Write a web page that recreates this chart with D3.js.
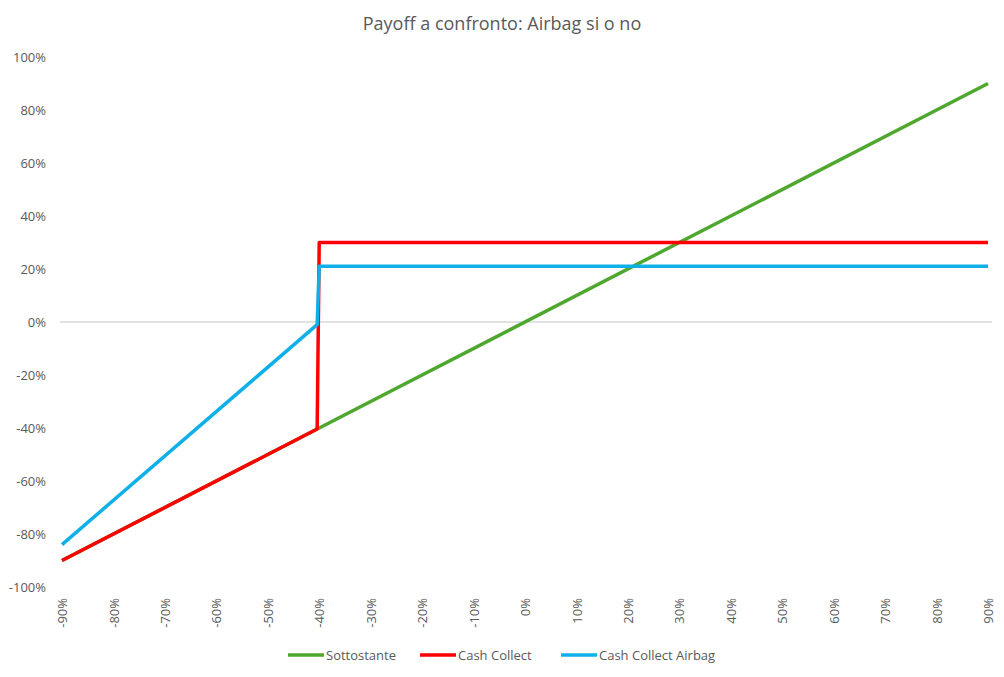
<!DOCTYPE html>
<html>
<head>
<meta charset="utf-8">
<script src="https://cdn.jsdelivr.net/npm/d3@7"></script>
<style>
  body { margin: 0; background: #fff; }
  svg { font-family: "Open Sans", "Noto Sans", sans-serif; }
</style>
</head>
<body>
<svg></svg>
<script>
// breakpoints of each payoff line (x = underlying performance, %)
var xPoints = [-90, -40.4, -40, 90];
var sottostante = [-90, -40.4, -40, 90];
var cashCollect = [-90, -40.4, 30, 30];
var airbag = [-84, -1, 21, 21];

var seriesNames = ["Sottostante", "Cash Collect", "Cash Collect Airbag"];
var seriesColors = ["#4ea72e", "#ff0000", "#0fb0e8"];
var xTicks = [-90, -80, -70, -60, -50, -40, -30, -20, -10, 0, 10, 20, 30, 40, 50, 60, 70, 80, 90];
var yTicks = [-100, -80, -60, -40, -20, 0, 20, 40, 60, 80, 100];

var width = 1004;
var height = 677;

var svg = d3.select("svg")
            .attr("width", width)
            .attr("height", height);

var xScale = d3.scaleLinear()
               .domain([-90, 90])
               .range([62, 988]);
var yScale = d3.scaleLinear()
               .domain([-100, 100])
               .range([587, 57]);

// title
svg.append("text")
   .text("Payoff a confronto: Airbag si o no")
   .attr("x", 502)
   .attr("y", 30)
   .attr("text-anchor", "middle")
   .attr("font-size", 18)
   .attr("fill", "#595959");

// y axis labels
var yAxis = d3.axisLeft(yScale)
              .tickValues(yTicks)
              .tickFormat(function(d){ return d + "%"; })
              .tickSize(0)
              .tickPadding(0);
var gy = svg.append("g")
            .attr("transform", "translate(46,0)")
            .call(yAxis);
gy.select(".domain").remove();
gy.selectAll("text")
  .attr("font-size", 13)
  .attr("font-family", "\"Open Sans\", sans-serif")
  .attr("fill", "#595959");

// zero line
svg.append("line")
   .attr("x1", 60)
   .attr("x2", 992)
   .attr("y1", yScale(0))
   .attr("y2", yScale(0))
   .attr("stroke", "#d9d9d9")
   .attr("stroke-width", 1.3);

// x axis labels, rotated
var xAxis = d3.axisBottom(xScale)
              .tickValues(xTicks)
              .tickFormat(function(d){ return d + "%"; })
              .tickSize(0);
var gx = svg.append("g")
            .attr("transform", "translate(0,598)")
            .call(xAxis);
gx.select(".domain").remove();
gx.selectAll("text")
  .attr("font-size", 13)
  .attr("font-family", "\"Open Sans\", sans-serif")
  .attr("fill", "#595959")
  .attr("transform", "rotate(-90)")
  .attr("text-anchor", "end")
  .attr("x", 0)
  .attr("y", 0)
  .attr("dy", "0.35em");

// lines
var line = d3.line()
             .x(function(d){ return xScale(d[0]); })
             .y(function(d){ return yScale(d[1]); });

var allSeries = [sottostante, cashCollect, airbag];
allSeries.forEach(function(vals, i){
  var pts = xPoints.map(function(x, j){ return [x, vals[j]]; });
  svg.append("path")
     .datum(pts)
     .attr("d", line)
     .attr("fill", "none")
     .attr("stroke", seriesColors[i])
     .attr("stroke-width", 3.5)
     .attr("stroke-linejoin", "round");
});

// legend
var legendX = [288, 420, 561];
seriesNames.forEach(function(name, i){
  svg.append("line")
     .attr("x1", legendX[i])
     .attr("x2", legendX[i] + 36)
     .attr("y1", 655)
     .attr("y2", 655)
     .attr("stroke", seriesColors[i])
     .attr("stroke-width", 3.5);
  svg.append("text")
     .text(name)
     .attr("x", legendX[i] + 38)
     .attr("y", 655)
     .attr("dy", "0.35em")
     .attr("font-size", 13)
     .attr("fill", "#595959");
});
</script>
</body>
</html>
